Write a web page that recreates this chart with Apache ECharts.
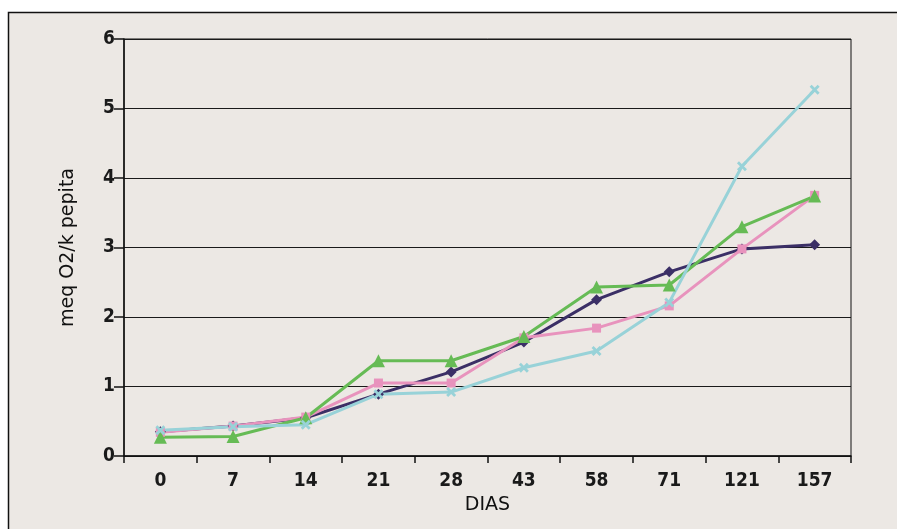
<!DOCTYPE html>
<html>
<head>
<meta charset="utf-8">
<script src="https://cdn.jsdelivr.net/npm/echarts@6/dist/echarts.min.js"></script>
<style>
  html, body { margin: 0; padding: 0; background: #ffffff; }
  #chart { width: 897px; height: 529px; }
</style>
</head>
<body>
<div id="chart"></div>
<script>
// Sampling days
const dias = ['0', '7', '14', '21', '28', '43', '58', '71', '121', '157'];

// meq O2 per kg of seed, four treatments
const serieA = [0.35, 0.43, 0.55, 0.89, 1.21, 1.64, 2.25, 2.65, 2.98, 3.04];
const serieB = [0.34, 0.43, 0.56, 1.05, 1.05, 1.70, 1.84, 2.16, 2.98, 3.75];
const serieC = [0.27, 0.28, 0.55, 1.37, 1.37, 1.72, 2.43, 2.46, 3.30, 3.74];
const serieD = [0.37, 0.42, 0.45, 0.89, 0.92, 1.27, 1.51, 2.21, 4.17, 5.27];

const yTicks = { min: 0, max: 6, step: 1 };

const tickFont = '"DejaVu Sans Condensed", "Liberation Sans Narrow", sans-serif';
const titleFont = '"DejaVu Sans", sans-serif';

const crossPath = 'path://M2,0 L5,3 L8,0 L10,2 L7,5 L10,8 L8,10 L5,7 L2,10 L0,8 L3,5 L0,2 Z';

function line(name, data, color, symbol, size) {
  return {
    name: name,
    type: 'line',
    data: data,
    symbol: symbol,
    symbolSize: size,
    showAllSymbol: true,
    lineStyle: { color: color, width: 3 },
    itemStyle: { color: color },
    emphasis: { disabled: true },
    z: 3
  };
}

const chart = echarts.init(document.getElementById('chart'), null, { renderer: 'canvas' });

chart.setOption({
  animation: false,
  backgroundColor: '#ffffff',
  graphic: [{
    type: 'rect',
    z: -10,
    shape: { x: 8.5, y: 12.5, width: 1000, height: 1000 },
    style: { fill: '#ece8e4', stroke: '#111111', lineWidth: 1.5 }
  }],
  grid: {
    left: 124, right: 46, top: 39, bottom: 73,
    show: true, borderColor: '#111111', borderWidth: 1,
    backgroundColor: 'transparent'
  },
  xAxis: {
    type: 'category',
    data: dias,
    boundaryGap: true,
    name: 'DIAS',
    nameLocation: 'middle',
    nameGap: 38,
    nameTextStyle: { fontFamily: titleFont, fontSize: 19, color: '#111' },
    axisLine: { show: true, lineStyle: { color: '#111', width: 1.5 } },
    axisTick: { show: true, length: 7, alignWithLabel: false, lineStyle: { color: '#111', width: 1.5 } },
    axisLabel: { fontFamily: tickFont, fontSize: 19, fontWeight: 'bold', color: '#1a1a1a', margin: 16 },
    splitLine: { show: false }
  },
  yAxis: {
    type: 'value',
    min: yTicks.min,
    max: yTicks.max,
    interval: yTicks.step,
    name: 'meq O2/k pepita',
    nameLocation: 'middle',
    nameGap: 46,
    nameTextStyle: { fontFamily: titleFont, fontSize: 19, color: '#111' },
    axisLine: { show: true, lineStyle: { color: '#111', width: 1.5 } },
    axisTick: { show: true, length: 10, lineStyle: { color: '#111', width: 1.5 } },
    axisLabel: { fontFamily: tickFont, fontSize: 19, fontWeight: 'bold', color: '#1a1a1a', margin: 9 },
    splitLine: { show: true, lineStyle: { color: '#1a1a1a', width: 1.2 } }
  },
  series: [
    line('A', serieA, '#3b2f66', 'diamond', 11),
    line('B', serieB, '#e893bd', 'rect', 9),
    line('C', serieC, '#66bb55', 'triangle', 13),
    line('D', serieD, '#98d2d8', crossPath, 10)
  ]
});
</script>
</body>
</html>
